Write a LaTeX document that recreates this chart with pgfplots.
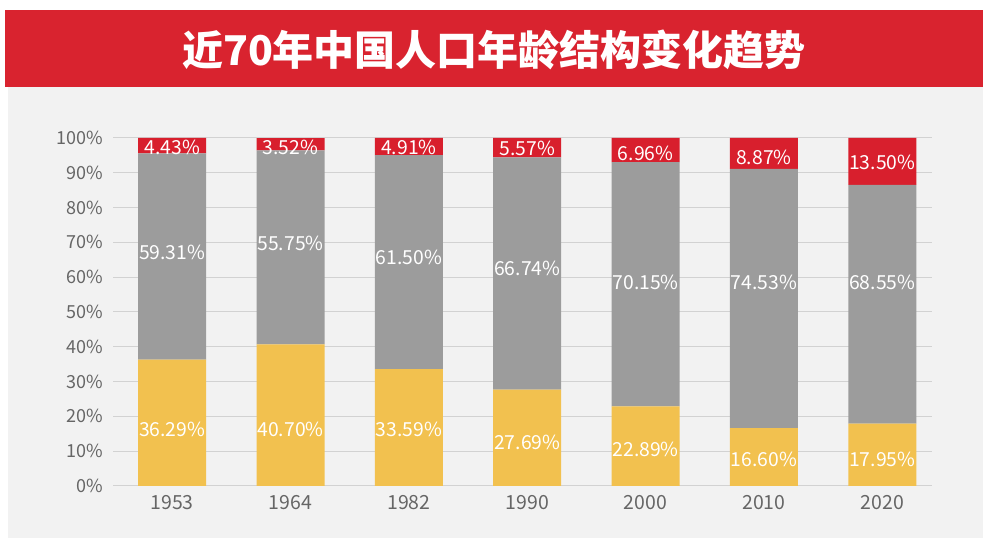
\documentclass[border=0pt]{standalone}
\usepackage{pgfplots}
\pgfplotsset{compat=1.18}
\usepackage{fontspec}
\setmainfont{Noto Sans CJK SC}
\definecolor{bannerred}{HTML}{D9232F}
\definecolor{barred}{HTML}{D81F2D}
\definecolor{bargray}{HTML}{9C9C9C}
\definecolor{baryellow}{HTML}{F2C14F}
\definecolor{panel}{HTML}{F2F2F2}
\definecolor{gridc}{HTML}{D2D2D2}
\definecolor{ticktext}{HTML}{666666}
\pgfplotsset{
  base/.style={
    at={(84.75pt,39pt)}, anchor=south west,
    scale only axis, width=614.25pt, height=261pt,
    xmin=-0.5, xmax=6.42, ymin=0, ymax=100,
    /pgf/number format/assume math mode=true,
  }
}
\begin{document}
\begin{tikzpicture}
\useasboundingbox (0,0) rectangle (737.25pt,403.5pt);
\fill[white] (0,0) rectangle (737.25pt,403.5pt);
\fill[panel] (6pt,0) rectangle (737.25pt,338.25pt);
\fill[bannerred] (3.75pt,338.25pt) rectangle (737.25pt,396pt);
\node[text=white, font=\bfseries\fontsize{30.75}{36}\selectfont] at (370.5pt,366pt) {近70年中国人口年龄结构变化趋势};
\begin{axis}[base,
  ybar stacked, bar width=51pt,
  ymajorgrids, grid style={gridc, line width=0.75pt},
  axis line style={draw=none},
  major tick length=0pt,
  ytick={0,10,...,100},
  yticklabel={\pgfmathprintnumber{\tick}\%},
  yticklabel style={anchor=east, inner sep=0pt, xshift=-7.5pt, text=ticktext, font=\fontsize{13.5}{16}\selectfont},
  xtick={0,...,6},
  xticklabels={1953,1964,1982,1990,2000,2010,2020},
  xticklabel style={anchor=center, inner sep=0pt, yshift=-12.75pt, text=ticktext, font=\fontsize{14.6}{17}\selectfont},
]
\addplot[fill=baryellow, draw=none] coordinates {(0,36.29) (1,40.70) (2,33.59) (3,27.69) (4,22.89) (5,16.60) (6,17.95)};
\addplot[fill=bargray, draw=none] coordinates {(0,59.31) (1,55.75) (2,61.50) (3,66.74) (4,70.15) (5,74.53) (6,68.55)};
\addplot[fill=barred, draw=none] coordinates {(0,4.43) (1,3.52) (2,4.91) (3,5.57) (4,6.96) (5,8.87) (6,13.50)};
\end{axis}
\begin{axis}[base, hide axis,
  point meta=explicit,
  nodes near coords={\pgfmathprintnumber[fixed,fixed zerofill,precision=2]{\pgfplotspointmeta}\%},
  every node near coord/.style={anchor=center, text=white, inner sep=0pt, font=\fontsize{14.5}{17}\selectfont},
]
\addplot[draw=none, mark=none] table[meta=v] {
x y v
0 16.4 36.29
1 16.4 40.70
2 16.4 33.59
3 12.6 27.69
4 10.6 22.89
5 7.5 16.60
6 7.5 17.95
};
\addplot[draw=none, mark=none] table[meta=v] {
x y v
0 67.2 59.31
1 69.8 55.75
2 65.8 61.50
3 62.6 66.74
4 58.6 70.15
5 58.6 74.53
6 58.6 68.55
};
\addplot[draw=none, mark=none] table[meta=v] {
x y v
0 97.4 4.43
1 97.4 3.52
2 97.4 4.91
3 97.1 5.57
4 95.7 6.96
5 94.5 8.87
6 93.1 13.50
};
\end{axis}
\end{tikzpicture}
\end{document}
